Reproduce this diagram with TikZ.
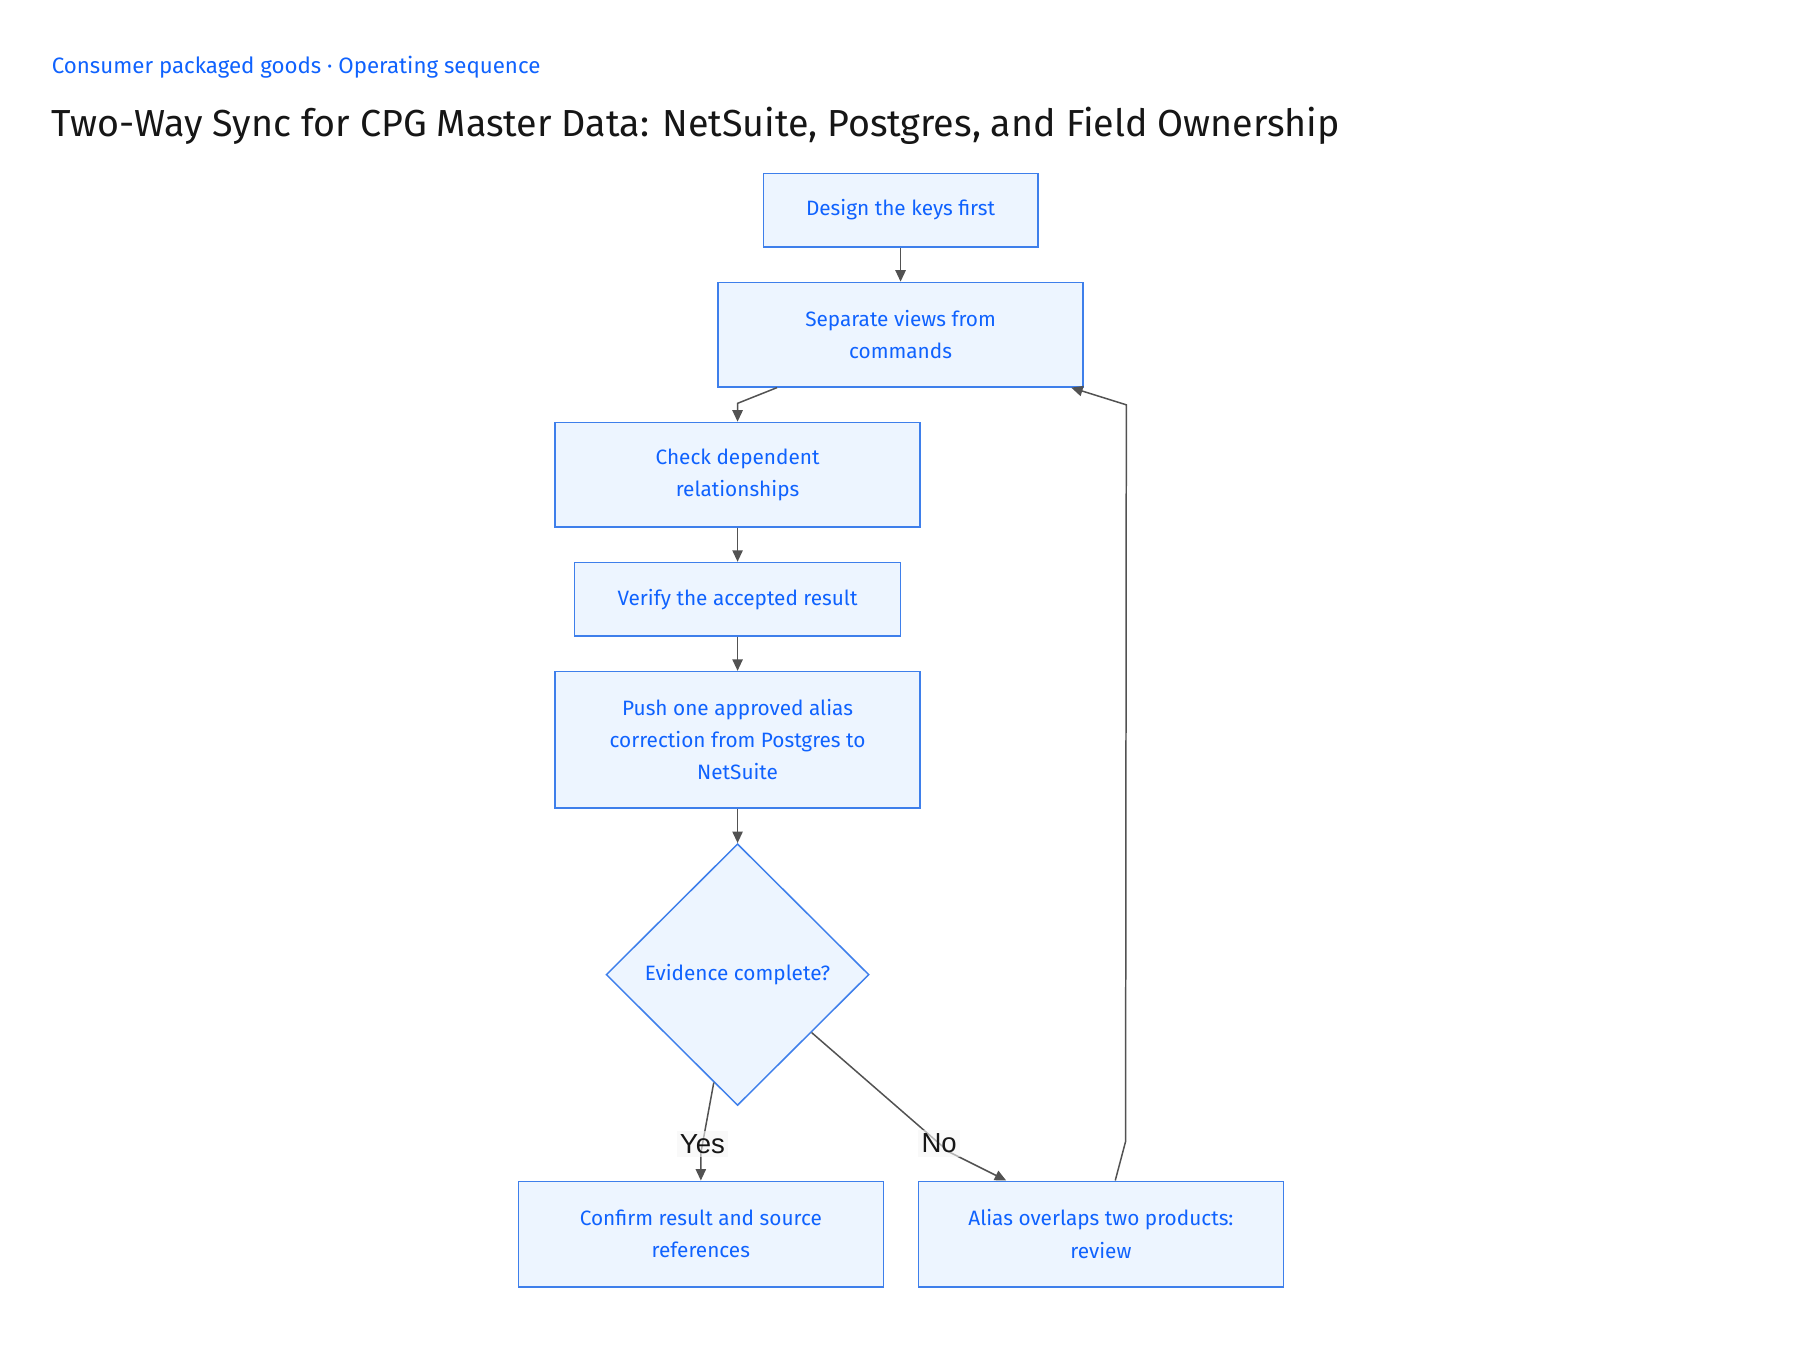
\documentclass[tikz,border=0pt]{standalone}
\usepackage{fontspec}
\setmainfont{Fira Sans}
\newfontfamily\edfont{Liberation Sans}
\usetikzlibrary{positioning}
\usetikzlibrary{shapes.geometric}
\usetikzlibrary{calc}
\usetikzlibrary{arrows.meta}
\definecolor{ink}{HTML}{0F62FE}
\definecolor{boxfill}{HTML}{EDF5FF}
\definecolor{boxline}{HTML}{3E7FEB}
\definecolor{wire}{HTML}{525252}
\definecolor{head}{HTML}{161616}
\tikzset{box/.style={draw=boxline,fill=boxfill,text=ink,line width=1.3pt,align=center,inner sep=0pt,font=\fontsize{18.1}{28}\selectfont}}
\tikzset{dec/.style={box,diamond,minimum width=229pt,minimum height=228pt}}
\tikzset{ln/.style={draw=wire,line width=1.3pt}}
\tikzset{ed/.style={font=\edfont\fontsize{24}{24}\selectfont,text=head,fill=gray!8,fill opacity=0.6,text opacity=1,inner sep=3pt}}
\tikzset{>={Triangle[length=10pt,width=9pt]}}

\begin{document}
\begin{tikzpicture}[x=1pt,y=-1pt]
\fill[white] (0,0) rectangle (1568,1176);

\node[anchor=base west,inner sep=0pt,text=ink,font=\fontsize{19.4}{19.4}\selectfont] (crumb) at (45,64) {Consumer packaged goods · Operating sequence};
\node[anchor=base west,inner sep=0pt,text=head,font=\fontsize{32.8}{32.8}\selectfont] (title) at (45,119) {Two-Way Sync for CPG Master Data: NetSuite, Postgres, and Field Ownership};

\begin{scope}[on grid]

\node[box,minimum width=239pt,minimum height=64pt] (keys) at (784.5,183) {Design the keys first};
\node[box,minimum width=318pt,minimum height=91pt] (views) [below=108.5pt of keys] {Separate views from\\commands};
\node[box,minimum width=318pt,minimum height=91pt] (deps) [below left=122pt and 142pt of views] {Check dependent\\relationships};
\node[box,minimum width=284pt,minimum height=64pt] (verify) [below=108.5pt of deps] {Verify the accepted result};
\node[box,minimum width=318pt,minimum height=119pt] (push) [below=122.5pt of verify] {Push one approved alias\\correction from Postgres to\\NetSuite};
\node[dec] (evid) [below=204.5pt of push] {Evidence complete?};

\node[box,minimum width=318pt,minimum height=92pt] (confirm) [below left=226pt and 32pt of evid] {Confirm result and source\\references};
\node[box,minimum width=318pt,minimum height=92pt] (alias) [right=348.5pt of confirm] {Alias overlaps two products:\\review};

\draw[ln,->] (keys) -- (views);
\draw[ln,->] ([xshift=52pt]views.south west) -- ([yshift=16pt]deps.north) -- (deps.north);
\draw[ln,->] (deps) -- (verify);
\draw[ln,->] (verify) -- (push);
\draw[ln,->] (push) -- (evid);

\draw[ln,->] ($(evid.south)!0.18!(evid.west)$) -- ([yshift=24pt]confirm.north)
node[ed,pos=0.875] (yes) {Yes} -- (confirm.north);
\draw[ln,->] ($(evid.east)!0.44!(evid.south)$) -- ([xshift=-132.5pt,yshift=25pt]alias.north)
node[ed,pos=0.93] (no) {No} -- ([xshift=-82.5pt]alias.north);

\draw[ln,->] ([xshift=12.5pt]alias.north) -- ([xshift=21.5pt,yshift=34pt]alias.north)
-- ([xshift=37pt,yshift=-15pt]views.south east) -- ([xshift=-11pt]views.south east);

\end{scope}
\end{tikzpicture}
\end{document}
